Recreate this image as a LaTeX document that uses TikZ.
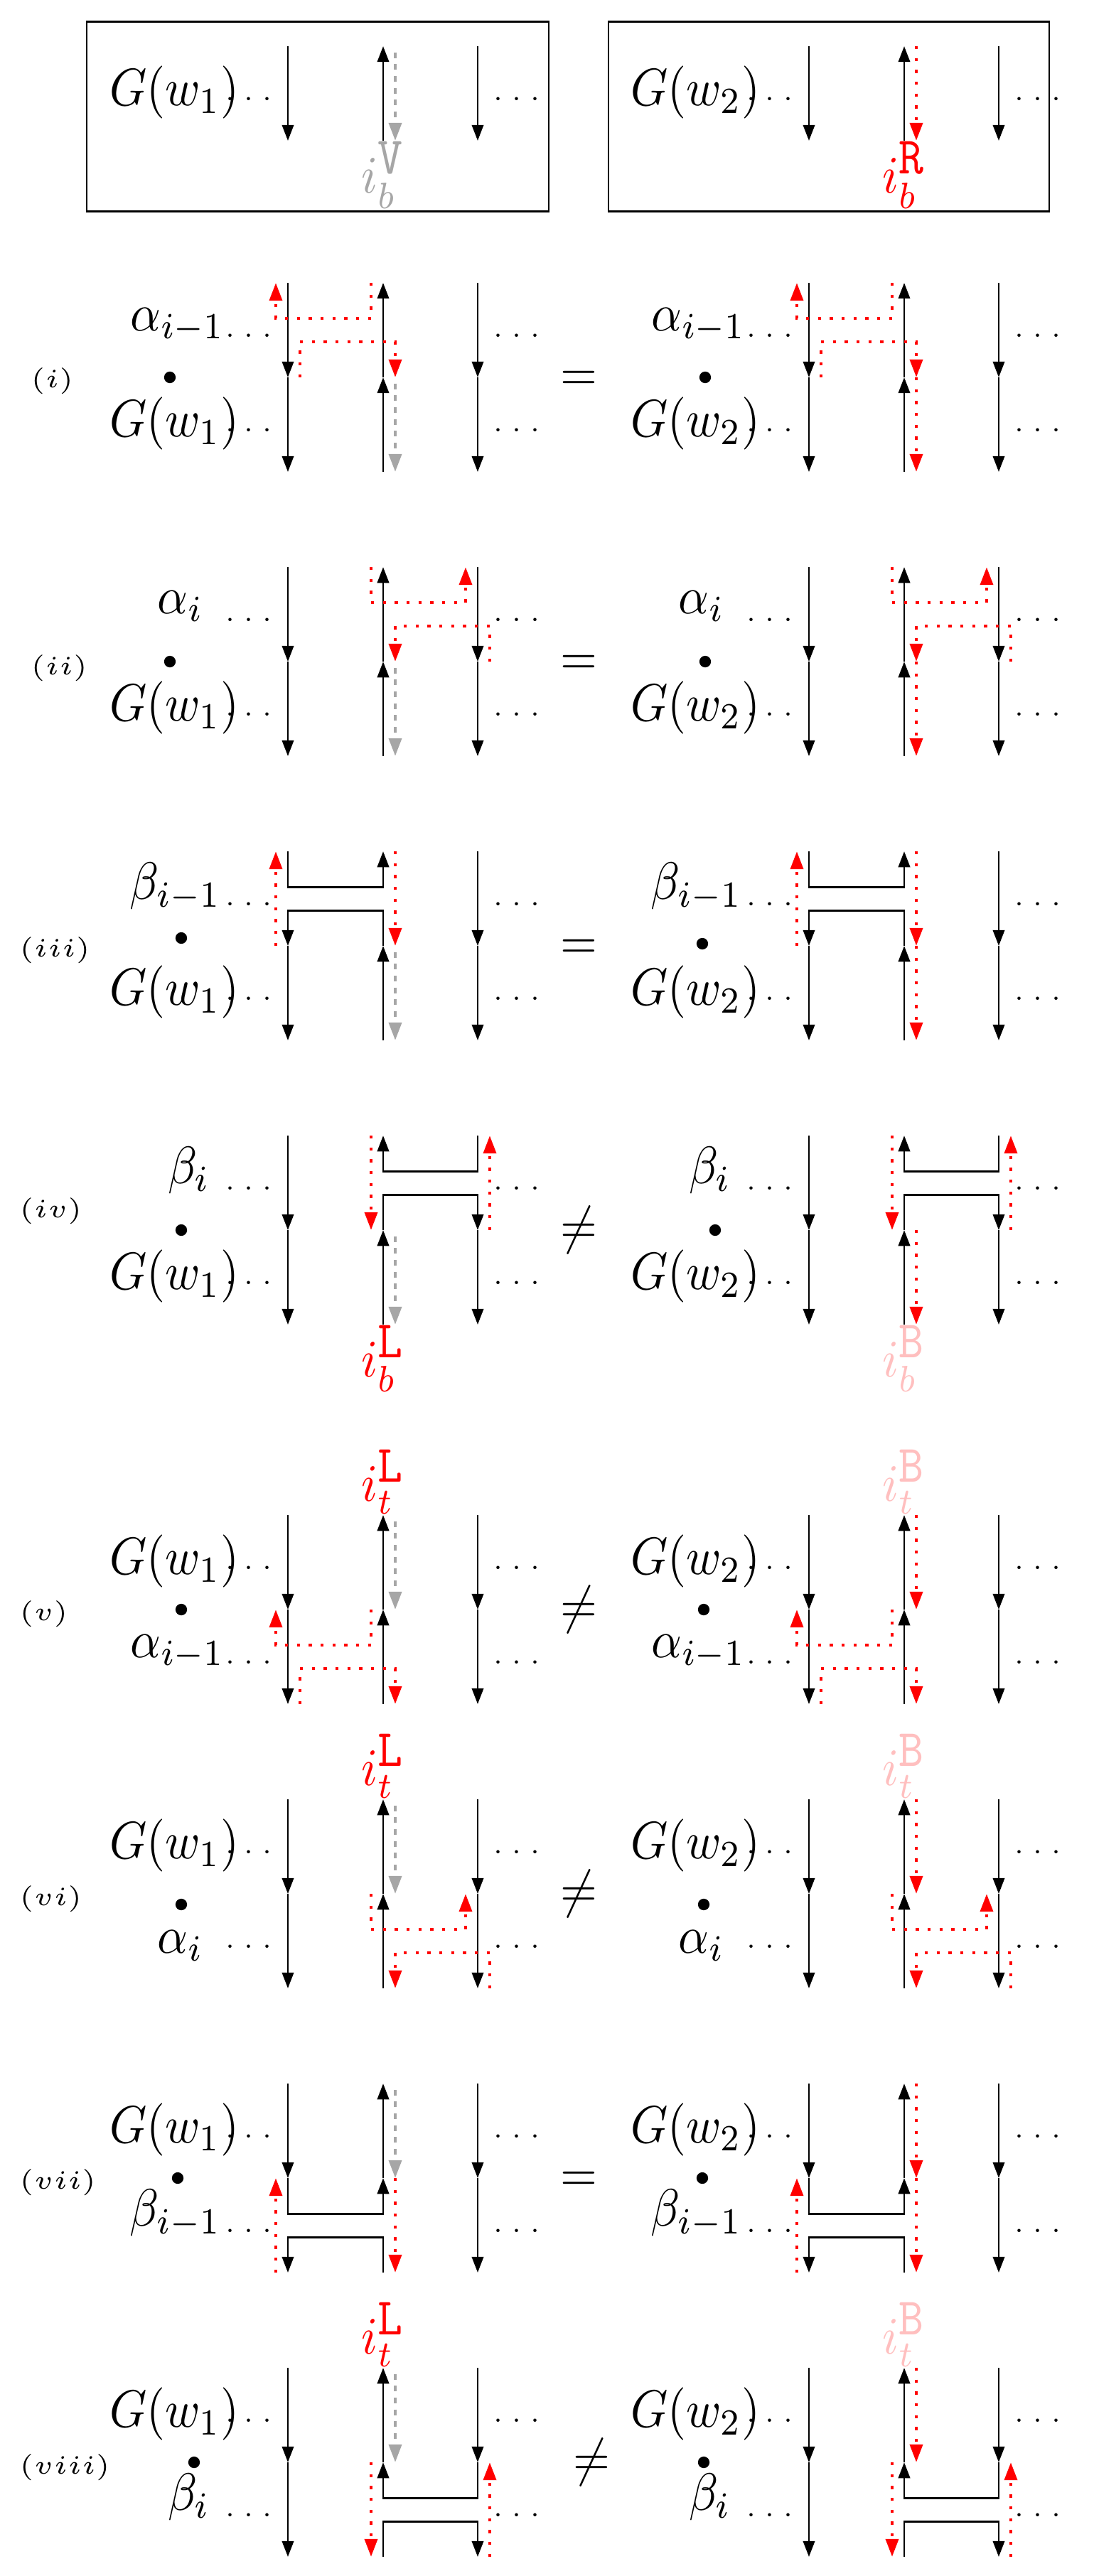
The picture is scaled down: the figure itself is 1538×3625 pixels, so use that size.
\documentclass[tikz,border=0pt]{standalone}
\usepackage{tikz}
\usetikzlibrary{arrows.meta}
\tikzstyle{strand}=[-{Triangle[length=3pt,width=2.2pt]}]
\tikzstyle{walk}=[red,line width=0.6pt,dash pattern=on 0.6pt off 1.65pt,-{Triangle[length=3.4pt,width=2.4pt]}]
\tikzstyle{ghost}=[black!35,dash pattern=on 1.1pt off 1.15pt,dash phase=1.1pt]
\tikzstyle{txt}=[xscale=0.9,transform shape]
\tikzstyle{lbl}=[txt,anchor=base,inner sep=0pt]
\tikzstyle{side}=[inner sep=2.5pt,font=\tiny]
\tikzstyle{tag}=[anchor=west,inner sep=0pt,font=\tiny]
\tikzstyle{pt}=[circle,fill,inner sep=0pt,minimum size=2.2pt]
\tikzstyle{ibot}=[txt,anchor=north,inner sep=0pt]
\tikzstyle{itop}=[txt,anchor=south,inner sep=0pt]

% halves of a picture: #1 = x shift, #2 = top of the half
\newcommand{\hplain}[2]{
  \draw[strand] (#1+405,#2) -- ++(0,133);
  \draw[strand] (#1+539,#2+133) -- ++(0,-133);
  \draw[strand] (#1+672,#2) -- ++(0,133);
}
\newcommand{\hbetalow}[2]{
  \draw[strand] (#1+405,#2) -- ++(0,50) -| (#1+539,#2);
  \draw[strand] (#1+539,#2+133) -- ++(0,-50) -| (#1+405,#2+133);
  \draw[strand] (#1+672,#2) -- ++(0,133);
}
\newcommand{\hbetahigh}[2]{
  \draw[strand] (#1+405,#2) -- ++(0,133);
  \draw[strand] (#1+672,#2) -- ++(0,50) -| (#1+539,#2);
  \draw[strand] (#1+539,#2+133) -- ++(0,-50) -| (#1+672,#2+133);
}
% the dotted walks
\newcommand{\walkalow}[2]{
  \draw[walk] (#1+522,#2) -- ++(0,50) -| (#1+388,#2);
  \draw[walk] (#1+422,#2+133) -- ++(0,-50) -| (#1+556,#2+133);
}
\newcommand{\walkahigh}[2]{
  \draw[walk] (#1+522,#2) -- ++(0,50) -| (#1+655,#2);
  \draw[walk] (#1+689,#2+133) -- ++(0,-50) -| (#1+556,#2+133);
}
\newcommand{\walkblow}[2]{
  \draw[walk] (#1+388,#2+133) -- ++(0,-133);
  \draw[walk] (#1+556,#2) -- ++(0,133);
}
\newcommand{\walkbhigh}[2]{
  \draw[walk] (#1+522,#2) -- ++(0,133);
  \draw[walk] (#1+689,#2+133) -- ++(0,-133);
}
\newcommand{\walkg}[3]{
  \draw[walk,#1] (#2+556,#3) -- ++(0,133);
}
% the dots beside the strands
\newcommand{\sides}[3]{
  \node[side,anchor=east] (#1l) at (#2+405,#3) {$\cdots$};
  \node[side,anchor=west] (#1r) at (#2+672,#3) {$\cdots$};
}

\begin{document}
\begin{tikzpicture}[x=0.135pt,y=-0.135pt]
\useasboundingbox (0,0) rectangle (1538,3625);

% the two words
\draw (122,30) rectangle (772,297);
\hplain{0}{65} \walkg{ghost}{0}{65}
\node[lbl] (g0L) at (245,148) {$G(w_1)$}; \sides{g0L}{0}{139}
\node[ibot,black!35] (i0L) at (539,198) {$i_b^{\mbox{\texttt{V}}}$};
\draw (856,30) rectangle (1476,297);
\hplain{733}{65} \walkg{red}{733}{65}
\node[lbl] (g0R) at (978,148) {$G(w_2)$}; \sides{g0R}{733}{139}
\node[ibot,red] (i0R) at (1272,198) {$i_b^{\mbox{\texttt{R}}}$};

% (i)
\node[tag] (t1) at (42,536) {$(i)$};
\hplain{0}{398} \walkalow{0}{398}
\hplain{0}{531} \walkg{ghost}{0}{531}
\node[lbl] (u1L) at (250,465) {$\alpha_{i-1}$}; \sides{u1L}{0}{472}
\node[pt] (p1L) at (239,531) {};
\node[lbl] (d1L) at (245,614) {$G(w_1)$}; \sides{d1L}{0}{605}
\node[lbl] (e1) at (814,549) {$=$};
\hplain{733}{398} \walkalow{733}{398}
\hplain{733}{531} \walkg{red}{733}{531}
\node[lbl] (u1R) at (983,465) {$\alpha_{i-1}$}; \sides{u1R}{733}{472}
\node[pt] (p1R) at (992,531) {};
\node[lbl] (d1R) at (978,614) {$G(w_2)$}; \sides{d1R}{733}{605}

% (ii)
\node[tag] (t2) at (42,940) {$(ii)$};
\hplain{0}{798} \walkahigh{0}{798}
\hplain{0}{931} \walkg{ghost}{0}{931}
\node[lbl] (u2L) at (254,863) {$\alpha_i$}; \sides{u2L}{0}{872}
\node[pt] (p2L) at (239,931) {};
\node[lbl] (d2L) at (245,1014) {$G(w_1)$}; \sides{d2L}{0}{1005}
\node[lbl] (e2) at (814,949) {$=$};
\hplain{733}{798} \walkahigh{733}{798}
\hplain{733}{931} \walkg{red}{733}{931}
\node[lbl] (u2R) at (987,863) {$\alpha_i$}; \sides{u2R}{733}{872}
\node[pt] (p2R) at (992,931) {};
\node[lbl] (d2R) at (978,1014) {$G(w_2)$}; \sides{d2R}{733}{1005}

% (iii)
\node[tag] (t3) at (26,1337) {$(iii)$};
\hbetalow{0}{1198} \walkblow{0}{1198}
\hplain{0}{1331} \walkg{ghost}{0}{1331}
\node[lbl] (u3L) at (247,1265) {$\beta_{i-1}$}; \sides{u3L}{0}{1272}
\node[pt] (p3L) at (255,1320) {};
\node[lbl] (d3L) at (245,1414) {$G(w_1)$}; \sides{d3L}{0}{1405}
\node[lbl] (e3) at (814,1349) {$=$};
\hbetalow{733}{1198} \walkblow{733}{1198}
\hplain{733}{1331} \walkg{red}{733}{1331}
\node[lbl] (u3R) at (980,1265) {$\beta_{i-1}$}; \sides{u3R}{733}{1272}
\node[pt] (p3R) at (988,1328) {};
\node[lbl] (d3R) at (978,1414) {$G(w_2)$}; \sides{d3R}{733}{1405}

% (iv)
\node[tag] (t4) at (26,1704) {$(iv)$};
\hbetahigh{0}{1598} \walkbhigh{0}{1598}
\hplain{0}{1731} \walkg{ghost}{0}{1731}
\node[lbl] (u4L) at (266,1665) {$\beta_i$}; \sides{u4L}{0}{1672}
\node[pt] (p4L) at (255,1731) {};
\node[lbl] (d4L) at (245,1814) {$G(w_1)$}; \sides{d4L}{0}{1805}
\node[ibot,red] (i4L) at (539,1864) {$i_b^{\mbox{\texttt{L}}}$};
\node[lbl] (e4) at (814,1749) {$\neq$};
\hbetahigh{733}{1598} \walkbhigh{733}{1598}
\hplain{733}{1731} \walkg{red}{733}{1731}
\node[lbl] (u4R) at (999,1665) {$\beta_i$}; \sides{u4R}{733}{1672}
\node[pt] (p4R) at (1006,1731) {};
\node[lbl] (d4R) at (978,1814) {$G(w_2)$}; \sides{d4R}{733}{1805}
\node[ibot,pink] (i4R) at (1272,1864) {$i_b^{\mbox{\texttt{B}}}$};

% (v)
\node[tag] (t5) at (26,2271) {$(v)$};
\hplain{0}{2132} \walkg{ghost}{0}{2132}
\hplain{0}{2265} \walkalow{0}{2265}
\node[itop,red] (i5L) at (539,2132) {$i_t^{\mbox{\texttt{L}}}$};
\node[lbl] (u5L) at (245,2215) {$G(w_1)$}; \sides{u5L}{0}{2206}
\node[pt] (p5L) at (255,2265) {};
\node[lbl] (d5L) at (250,2332) {$\alpha_{i-1}$}; \sides{d5L}{0}{2339}
\node[lbl] (e5) at (814,2283) {$\neq$};
\hplain{733}{2132} \walkg{red}{733}{2132}
\hplain{733}{2265} \walkalow{733}{2265}
\node[itop,pink] (i5R) at (1272,2132) {$i_t^{\mbox{\texttt{B}}}$};
\node[lbl] (u5R) at (978,2215) {$G(w_2)$}; \sides{u5R}{733}{2206}
\node[pt] (p5R) at (990,2265) {};
\node[lbl] (d5R) at (983,2332) {$\alpha_{i-1}$}; \sides{d5R}{733}{2339}

% (vi)
\node[tag] (t6) at (26,2672) {$(vi)$};
\hplain{0}{2532} \walkg{ghost}{0}{2532}
\hplain{0}{2665} \walkahigh{0}{2665}
\node[itop,red] (i6L) at (539,2532) {$i_t^{\mbox{\texttt{L}}}$};
\node[lbl] (u6L) at (245,2615) {$G(w_1)$}; \sides{u6L}{0}{2606}
\node[pt] (p6L) at (255,2680) {};
\node[lbl] (d6L) at (254,2748) {$\alpha_i$}; \sides{d6L}{0}{2739}
\node[lbl] (e6) at (814,2683) {$\neq$};
\hplain{733}{2532} \walkg{red}{733}{2532}
\hplain{733}{2665} \walkahigh{733}{2665}
\node[itop,pink] (i6R) at (1272,2532) {$i_t^{\mbox{\texttt{B}}}$};
\node[lbl] (u6R) at (978,2615) {$G(w_2)$}; \sides{u6R}{733}{2606}
\node[pt] (p6R) at (990,2680) {};
\node[lbl] (d6R) at (987,2748) {$\alpha_i$}; \sides{d6R}{733}{2739}

% (vii)
\node[tag] (t7) at (26,3071) {$(vii)$};
\hplain{0}{2932} \walkg{ghost}{0}{2932}
\hbetalow{0}{3065} \walkblow{0}{3065}
\node[lbl] (u7L) at (245,3015) {$G(w_1)$}; \sides{u7L}{0}{3006}
\node[pt] (p7L) at (250,3065) {};
\node[lbl] (d7L) at (247,3132) {$\beta_{i-1}$}; \sides{d7L}{0}{3139}
\node[lbl] (e7) at (814,3083) {$=$};
\hplain{733}{2932} \walkg{red}{733}{2932}
\hbetalow{733}{3065} \walkblow{733}{3065}
\node[lbl] (u7R) at (978,3015) {$G(w_2)$}; \sides{u7R}{733}{3006}
\node[pt] (p7R) at (988,3065) {};
\node[lbl] (d7R) at (980,3132) {$\beta_{i-1}$}; \sides{d7R}{733}{3139}

% (viii)
\node[tag] (t8) at (26,3472) {$(viii)$};
\hplain{0}{3332} \walkg{ghost}{0}{3332}
\hbetahigh{0}{3465} \walkbhigh{0}{3465}
\node[itop,red] (i8L) at (539,3332) {$i_t^{\mbox{\texttt{L}}}$};
\node[lbl] (u8L) at (245,3415) {$G(w_1)$}; \sides{u8L}{0}{3406}
\node[pt] (p8L) at (273,3465) {};
\node[lbl] (d8L) at (266,3532) {$\beta_i$}; \sides{d8L}{0}{3539}
\node[lbl] (e8) at (832,3483) {$\neq$};
\hplain{733}{3332} \walkg{red}{733}{3332}
\hbetahigh{733}{3465} \walkbhigh{733}{3465}
\node[itop,pink] (i8R) at (1272,3332) {$i_t^{\mbox{\texttt{B}}}$};
\node[lbl] (u8R) at (978,3415) {$G(w_2)$}; \sides{u8R}{733}{3406}
\node[pt] (p8R) at (990,3465) {};
\node[lbl] (d8R) at (999,3532) {$\beta_i$}; \sides{d8R}{733}{3539}
\end{tikzpicture}
\end{document}
